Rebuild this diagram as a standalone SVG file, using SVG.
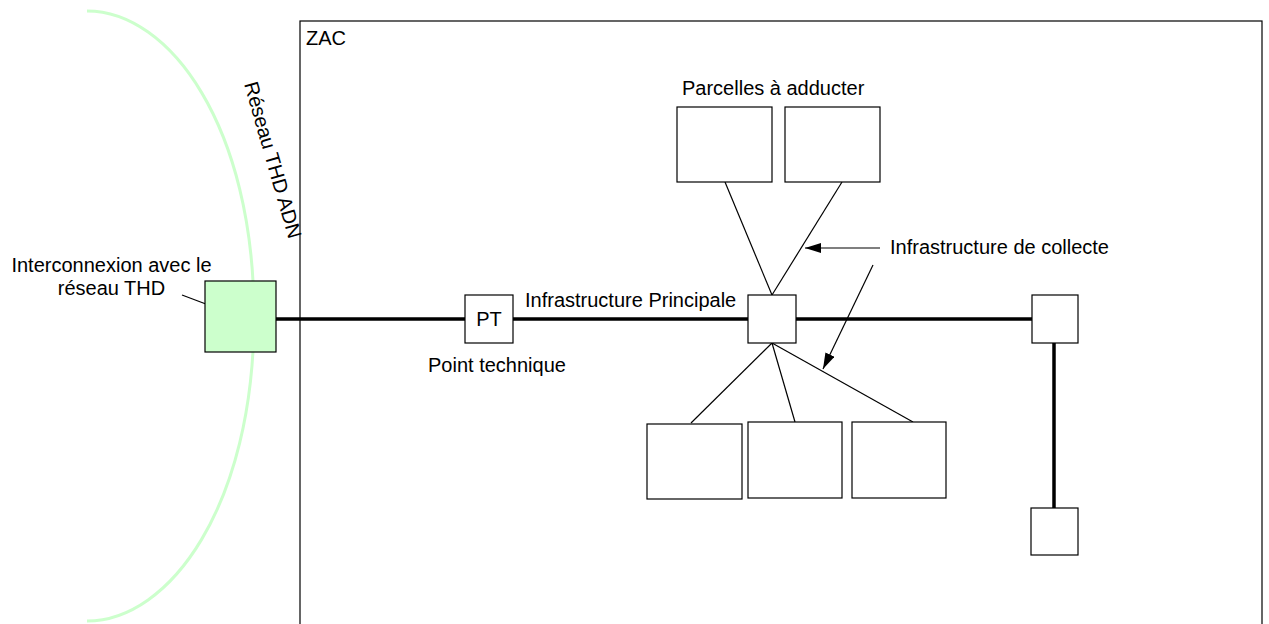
<svg xmlns="http://www.w3.org/2000/svg" width="1269" height="624" viewBox="0 0 1269 624">
<style>
text{font-family:"Liberation Sans",Arial,sans-serif;font-size:20px;fill:#000}
.box{fill:#fff;stroke:#000;stroke-width:1.2}
.thick{stroke:#000;stroke-width:3.5;fill:none}
.thin{stroke:#000;stroke-width:1.2;fill:none}
.arr{stroke:#000;stroke-width:1.2;fill:none;marker-end:url(#ah)}
</style>
<defs>
<marker id="ah" viewBox="0 0 16 10" refX="16" refY="5" markerWidth="16" markerHeight="10" markerUnits="userSpaceOnUse" orient="auto">
<path d="M0,0 L16,5 L0,10 Z" fill="#000"/>
</marker>
</defs>
<g id="reseau-thd">
<path d="M87,11 C170,11 254,127 254,316 C254,505 170,621 87,621" fill="none" stroke="#ccffcc" stroke-width="3"/>
<text transform="translate(244,84) rotate(74)">Réseau THD ADN</text>
</g>
<g id="zac">
<rect x="300" y="21" width="962" height="620" fill="none" stroke="#000" stroke-width="1.2"/>
<text x="306" y="45">ZAC</text>
</g>
<g id="connectors">
<line class="thick" x1="276" y1="319" x2="465" y2="319"/>
<line class="thick" x1="513" y1="319" x2="748" y2="319"/>
<line class="thick" x1="796" y1="319" x2="1032" y2="319"/>
<line class="thick" x1="1054" y1="343" x2="1054" y2="508"/>
<line class="thin" x1="725" y1="182" x2="772" y2="295"/>
<line class="thin" x1="842" y1="182" x2="772" y2="295"/>
<line class="thin" x1="772" y1="343" x2="691" y2="423"/>
<line class="thin" x1="772" y1="343" x2="795" y2="422"/>
<line class="thin" x1="772" y1="343" x2="913" y2="422"/>
<line class="arr" x1="182" y1="295" x2="243" y2="318"/>
<line class="arr" x1="880" y1="248" x2="805" y2="248"/>
<line class="arr" x1="873" y1="265" x2="823" y2="369"/>
</g>
<g id="interconnexion">
<rect x="205" y="281" width="71" height="71" fill="#ccffcc" stroke="#000" stroke-width="1.2"/>
<text x="111.5" y="272" text-anchor="middle">Interconnexion avec le</text>
<text x="111.5" y="295" text-anchor="middle">réseau THD</text>
</g>
<g id="pt">
<rect class="box" x="465" y="295" width="48" height="48"/>
<text x="489" y="326" text-anchor="middle">PT</text>
<text x="428" y="372">Point technique</text>
</g>
<g id="label-principale">
<text x="525" y="307">Infrastructure Principale</text>
</g>
<g id="label-collecte">
<text x="890" y="254">Infrastructure de collecte</text>
</g>
<g id="noeud-central">
<rect class="box" x="748" y="295" width="48" height="48"/>
</g>
<g id="noeud-droite">
<rect class="box" x="1032" y="295" width="46" height="48"/>
</g>
<g id="noeud-bas">
<rect class="box" x="1031" y="508" width="47" height="47"/>
</g>
<g id="parcelles">
<text x="682" y="95">Parcelles à adducter</text>
<rect class="box" x="677" y="107" width="95" height="75"/>
<rect class="box" x="785" y="107" width="95" height="75"/>
</g>
<g id="parcelles-bas">
<rect class="box" x="647" y="424" width="95" height="75"/>
<rect class="box" x="748" y="422" width="94" height="76"/>
<rect class="box" x="852" y="422" width="94" height="76"/>
</g>
</svg>
